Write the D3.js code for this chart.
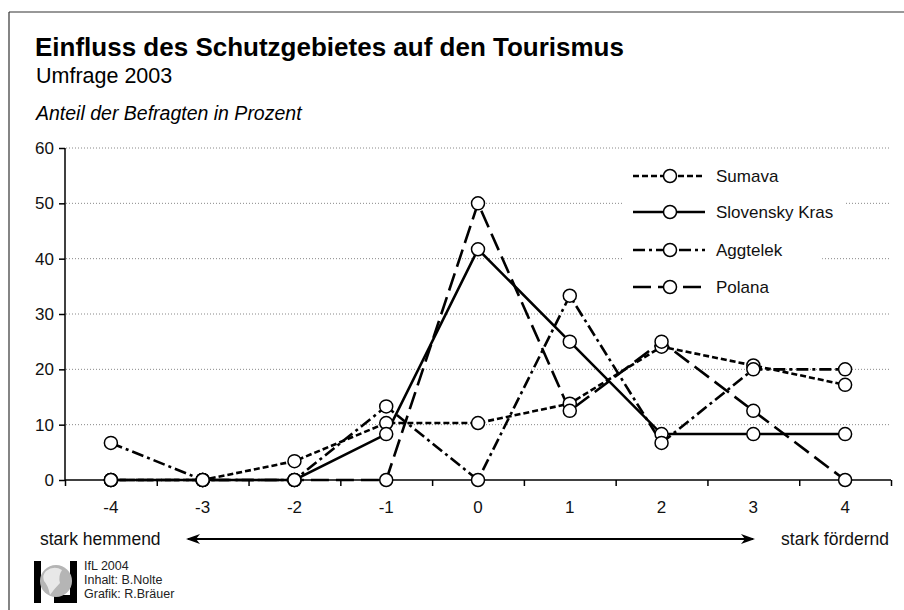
<!DOCTYPE html>
<html>
<head>
<meta charset="utf-8">
<script src="https://cdn.jsdelivr.net/npm/d3@7"></script>
<style>
  body { margin: 0; background: #fff; }
  svg { display: block; font-family: "Liberation Sans", Arial, sans-serif; }
</style>
</head>
<body>
<script>
// Antwortskala -4 .. 4
const categories = [-4, -3, -2, -1, 0, 1, 2, 3, 4];
const sumava = [0, 0, 3.4, 10.3, 10.3, 13.8, 24.1, 20.7, 17.2];
const slovenskyKras = [0, 0, 0, 8.3, 41.7, 25, 8.3, 8.3, 8.3];
const aggtelek = [6.7, 0, 0, 13.3, 0, 33.3, 6.7, 20, 20];
const polana = [0, 0, 0, 0, 50, 12.5, 25, 12.5, 0];
const yTicks = [0, 10, 20, 30, 40, 50, 60];
const seriesNames = ["Sumava", "Slovensky Kras", "Aggtelek", "Polana"];

const w = 904, h = 610;

const series = [
    { name: seriesNames[0], values: sumava, dash: "6,3" },
    { name: seriesNames[1], values: slovenskyKras, dash: null },
    { name: seriesNames[2], values: aggtelek, dash: "12,4,3,4" },
    { name: seriesNames[3], values: polana, dash: "18,7" }
];

const svg = d3.select("body").append("svg")
    .attr("width", w)
    .attr("height", h);

// Rahmen (oben + links)
svg.append("line").attr("x1", 9).attr("x2", w).attr("y1", 12).attr("y2", 12)
    .attr("stroke", "#333").attr("stroke-width", 1.2);
svg.append("line").attr("x1", 9).attr("x2", 9).attr("y1", 12).attr("y2", h)
    .attr("stroke", "#333").attr("stroke-width", 1.2);

// Titel
svg.append("text").attr("x", 35).attr("y", 56)
    .attr("font-size", 26).attr("font-weight", "bold")
    .text("Einfluss des Schutzgebietes auf den Tourismus");
svg.append("text").attr("x", 36).attr("y", 83)
    .attr("font-size", 21.5)
    .text("Umfrage 2003");
svg.append("text").attr("x", 36).attr("y", 120)
    .attr("font-size", 19.5).attr("font-style", "italic")
    .text("Anteil der Befragten in Prozent");

const xScale = d3.scaleLinear().domain([-4.5, 4.5]).range([65, 891]);
const yScale = d3.scaleLinear().domain([0, 60]).range([480, 148]);

// Gitter
svg.append("g").selectAll("line")
    .data(yTicks.filter(d => d > 0))
    .enter().append("line")
    .attr("x1", 66).attr("x2", 891)
    .attr("y1", d => yScale(d)).attr("y2", d => yScale(d))
    .attr("stroke", "#888").attr("stroke-width", 1)
    .attr("stroke-dasharray", "1,2");

// y-Achse
const yAxis = d3.axisLeft(yScale).tickValues(yTicks).tickSize(6).tickPadding(5);
const yAxisG = svg.append("g").attr("transform", "translate(65,0)").call(yAxis);
yAxisG.select(".domain").attr("stroke", "#000").attr("stroke-width", 1.5).attr("d", "M0,148V480");
yAxisG.selectAll(".tick line").attr("stroke", "#000").attr("stroke-width", 1.5);
yAxisG.selectAll(".tick text").attr("font-size", 17).attr("fill", "#111")
    .attr("font-family", "Liberation Sans, Arial, sans-serif");

// x-Achse: Striche auf halben Stufen, Beschriftung auf ganzen
const halfTicks = d3.range(-4.5, 4.6, 1);
const xAxis = d3.axisBottom(xScale).tickValues(halfTicks).tickSize(6).tickFormat("");
const xAxisG = svg.append("g").attr("transform", "translate(0,480)").call(xAxis);
xAxisG.select(".domain").attr("stroke", "#000").attr("stroke-width", 1.5).attr("d", "M65,0H891");
xAxisG.selectAll(".tick line").attr("stroke", "#000").attr("stroke-width", 1.5);

svg.append("g").selectAll("text")
    .data(categories)
    .enter().append("text")
    .attr("x", d => xScale(d))
    .attr("y", 513)
    .attr("text-anchor", "middle")
    .attr("font-size", 17).attr("fill", "#111")
    .text(d => d);

// Linien
const line = d3.line()
    .x((d, i) => xScale(categories[i]))
    .y(d => yScale(d));

series.forEach(s => {
    svg.append("path")
        .datum(s.values)
        .attr("d", line)
        .attr("fill", "none")
        .attr("stroke", "#000")
        .attr("stroke-width", 2.6)
        .attr("stroke-dasharray", s.dash);
});

series.forEach(s => {
    svg.append("g").selectAll("circle")
        .data(s.values)
        .enter().append("circle")
        .attr("cx", (d, i) => xScale(categories[i]))
        .attr("cy", d => yScale(d))
        .attr("r", 6.5)
        .attr("fill", "#fff")
        .attr("stroke", "#000")
        .attr("stroke-width", 1.5);
});

// Legende
const legend = svg.append("g");
const legendY = [176, 212, 250, 287];
const legendPad = [12, 12, 40, 12];
series.forEach((s, i) => {
    const g = legend.append("g").attr("transform", `translate(633,${legendY[i]})`);
    const t = g.append("text").attr("x", 83).attr("y", 6)
        .attr("font-size", 17).attr("fill", "#111").text(s.name);
    const tw = t.node().getComputedTextLength();
    g.insert("rect", "text")
        .attr("x", -10).attr("y", -13).attr("width", 93 + tw + legendPad[i]).attr("height", 26)
        .attr("fill", "#fff");
    g.append("line").attr("x1", 0).attr("x2", 72).attr("y1", 0).attr("y2", 0)
        .attr("stroke", "#000").attr("stroke-width", 2.6)
        .attr("stroke-dasharray", s.dash);
    g.append("circle").attr("cx", 37).attr("cy", 0).attr("r", 6.5)
        .attr("fill", "#fff").attr("stroke", "#000").attr("stroke-width", 1.5);
});

// Skalenbeschreibung unten
svg.append("text").attr("x", 40).attr("y", 545)
    .attr("font-size", 17.5).attr("fill", "#111").text("stark hemmend");
svg.append("text").attr("x", 889).attr("y", 545).attr("text-anchor", "end")
    .attr("font-size", 17.5).attr("fill", "#111").text("stark fördernd");

const defs = svg.append("defs");
defs.append("marker").attr("id", "arr").attr("viewBox", "0 0 14 10")
    .attr("refX", 12).attr("refY", 5).attr("markerWidth", 14).attr("markerHeight", 10)
    .attr("markerUnits", "userSpaceOnUse").attr("orient", "auto-start-reverse")
    .append("path").attr("d", "M0,0L14,5L0,10L4,5Z").attr("fill", "#000");
svg.append("line").attr("x1", 188).attr("x2", 753).attr("y1", 539).attr("y2", 539)
    .attr("stroke", "#000").attr("stroke-width", 2)
    .attr("marker-start", "url(#arr)").attr("marker-end", "url(#arr)");

// Logo
const logo = svg.append("g").attr("transform", "translate(34,561)");
logo.append("rect").attr("x", 0).attr("y", 0).attr("width", 7).attr("height", 42).attr("fill", "#000");
logo.append("rect").attr("x", 36).attr("y", 0).attr("width", 7).attr("height", 42).attr("fill", "#000");
logo.append("rect").attr("x", 20).attr("y", 34).attr("width", 23).attr("height", 8).attr("fill", "#000");
logo.append("circle").attr("cx", 22).attr("cy", 20).attr("r", 16).attr("fill", "#b5b5b5");
logo.append("path").attr("d", "M12,10 Q20,4 28,9 Q24,15 26,22 Q20,28 16,34 Q14,24 10,20 Q8,14 12,10Z")
    .attr("fill", "#e8e8e8");
const credits = ["IfL 2004", "Inhalt: B.Nolte", "Grafik: R.Bräuer"];
svg.append("g").selectAll("text").data(credits).enter().append("text")
    .attr("x", 84).attr("y", (d, i) => 570 + i * 14)
    .attr("font-size", 12.5).attr("fill", "#222")
    .text(d => d);
</script>
</body>
</html>
